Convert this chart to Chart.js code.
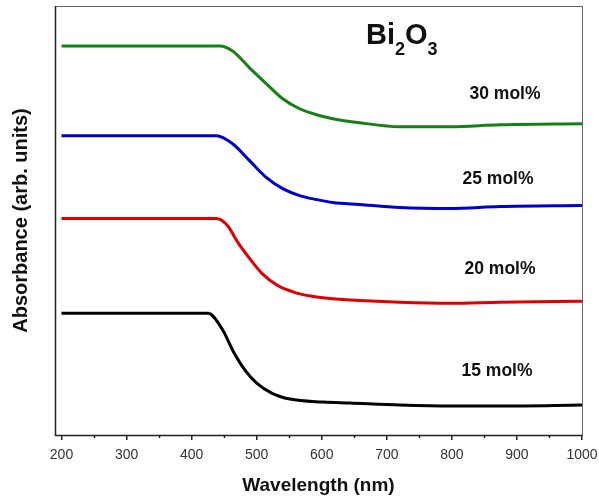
<!DOCTYPE html>
<html>
<head>
<meta charset="utf-8">
<script src="https://cdn.jsdelivr.net/npm/chart.js@4"></script>
<style>
  html, body { margin: 0; padding: 0; background: #fff; }
  #wrap { width: 599px; height: 497px; }
</style>
</head>
<body>
<div id="wrap"><canvas id="absChart" width="599" height="497"></canvas></div>
<script>
// wavelength (nm) / absorbance (arb. units)
const wl15 = [200, 425, 448, 463, 482, 500, 523, 551, 602, 643, 720, 797, 874, 1000];
const abs15 = [122, 122, 105, 85, 65, 52, 42, 36, 33, 32, 30, 29, 29, 30];

const wl20 = [200, 438, 455, 471, 489, 508, 532, 558, 585, 609, 651, 720, 797, 874, 1000];
const abs20 = [217, 217, 210, 193, 177, 162, 150, 143, 139, 137, 135, 133, 132, 133, 134];

const wl25 = [200, 438, 463, 489, 515, 540, 566, 592, 617, 658, 720, 797, 874, 1000];
const abs25 = [300, 300, 292, 275, 258, 247, 240, 236, 233, 231, 228, 227, 229, 230];

const wl30 = [200, 443, 463, 489, 515, 540, 566, 592, 617, 658, 720, 797, 874, 1000];
const abs30 = [390, 390, 385, 368, 352, 337, 327, 321, 317, 313, 309, 309, 311, 312];

const xTicks = [200, 300, 400, 500, 600, 700, 800, 900, 1000];
const xMinorTicks = [250, 350, 450, 550, 650, 750, 850, 950];

const seriesLabels = ["15 mol%", "20 mol%", "25 mol%", "30 mol%"];

function pts(xs, ys) {
  return xs.map((x, i) => ({ x: x, y: ys[i] }));
}

const FONT = "'Liberation Sans', Arial, sans-serif";

// frame, minor ticks and text labels
const decor = {
  id: "decor",
  afterDraw(chart) {
    const ctx = chart.ctx;
    const a = chart.chartArea;
    const xs = chart.scales.x;
    ctx.save();
    ctx.strokeStyle = "#666";
    ctx.lineWidth = 1;
    ctx.strokeRect(a.left + 0.5, a.top + 0.5, a.right - a.left, a.bottom - a.top);
    ctx.strokeStyle = "#222";
    ctx.lineWidth = 1.5;
    ctx.beginPath();
    ctx.moveTo(a.left + 0.5, a.top);
    ctx.lineTo(a.left + 0.5, a.bottom + 0.5);
    ctx.lineTo(a.right + 0.5, a.bottom + 0.5);
    ctx.stroke();
    xMinorTicks.forEach((v) => {
      const px = Math.round(xs.getPixelForValue(v)) + 0.5;
      ctx.beginPath();
      ctx.moveTo(px, a.bottom);
      ctx.lineTo(px, a.bottom + 3);
      ctx.stroke();
    });

    ctx.fillStyle = "#111";
    ctx.textBaseline = "alphabetic";
    ctx.textAlign = "left";
    // Bi2O3
    let x0 = 366;
    ctx.font = "bold 29px " + FONT;
    ctx.fillText("Bi", x0, 44);
    x0 += ctx.measureText("Bi").width;
    ctx.font = "bold 18px " + FONT;
    ctx.fillText("2", x0, 55);
    x0 += ctx.measureText("2").width;
    ctx.font = "bold 29px " + FONT;
    ctx.fillText("O", x0, 44);
    x0 += ctx.measureText("O").width;
    ctx.font = "bold 18px " + FONT;
    ctx.fillText("3", x0, 55);

    ctx.font = "bold 17.5px " + FONT;
    ctx.textAlign = "center";
    ctx.fillText(seriesLabels[3], 505, 99);
    ctx.fillText(seriesLabels[2], 498, 184);
    ctx.fillText(seriesLabels[1], 500, 274);
    ctx.fillText(seriesLabels[0], 497, 376);
    ctx.restore();
  }
};

const line = (label, data, color) => ({
  label: label,
  data: data,
  borderColor: color,
  borderWidth: 3,
  pointRadius: 0,
  fill: false,
  cubicInterpolationMode: "monotone"
});

new Chart(document.getElementById("absChart"), {
  type: "line",
  data: {
    datasets: [
      line(seriesLabels[0], pts(wl15, abs15), "#000000"),
      line(seriesLabels[1], pts(wl20, abs20), "#e00000"),
      line(seriesLabels[2], pts(wl25, abs25), "#0000d0"),
      line(seriesLabels[3], pts(wl30, abs30), "#168016")
    ]
  },
  options: {
    responsive: false,
    animation: false,
    layout: { padding: { top: 6, right: 17, left: 0, bottom: 0 } },
    plugins: { legend: { display: false }, tooltip: { enabled: false } },
    scales: {
      x: {
        type: "linear",
        min: 190,
        max: 1000,
        afterBuildTicks: (s) => { s.ticks = xTicks.map((v) => ({ value: v })); },
        afterFit: (s) => {
          s.height = 62;
          s.paddingLeft = 0;
          s.paddingRight = 0;
        },
        grid: { display: true, drawOnChartArea: false, drawTicks: true, tickLength: 5, color: "#222", lineWidth: 1.5 },
        border: { display: false },
        ticks: {
          color: "#333",
          font: { size: 14, family: FONT },
          padding: 7,
          maxRotation: 0,
          callback: (v) => String(v)
        },
        title: {
          display: true,
          text: "Wavelength (nm)",
          color: "#111",
          font: { size: 19, weight: "bold", family: FONT },
          padding: { top: 4, bottom: 0 }
        }
      },
      y: {
        min: 0,
        max: 430,
        afterFit: (s) => { s.width = 55; },
        grid: { display: false },
        border: { display: false },
        ticks: { display: false },
        title: {
          display: true,
          text: "Absorbance (arb. units)",
          color: "#111",
          font: { size: 20, weight: "bold", family: FONT },
          padding: { top: 9, bottom: 0 }
        }
      }
    }
  },
  plugins: [decor]
});
</script>
</body>
</html>
